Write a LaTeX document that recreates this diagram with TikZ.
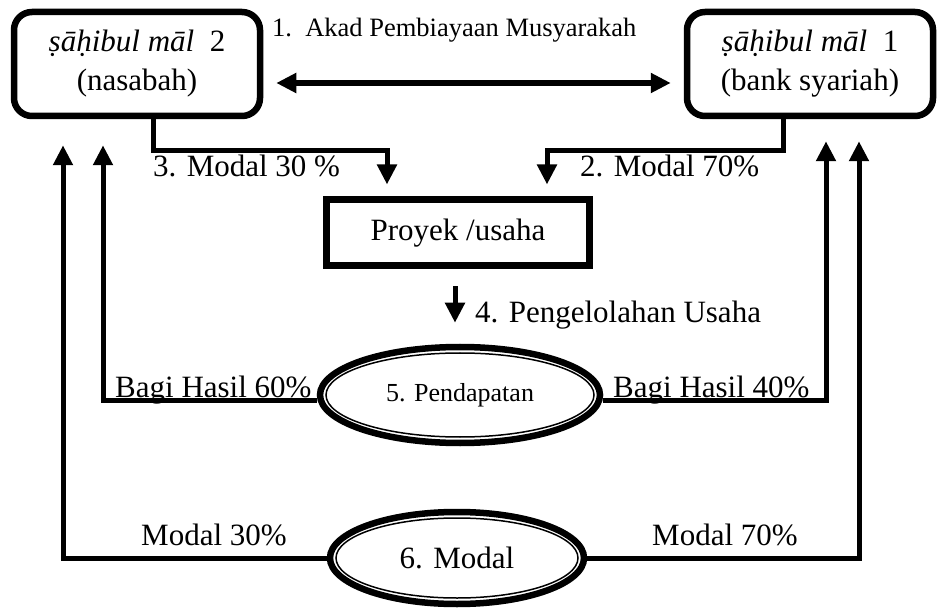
\documentclass[tikz,border=0pt]{standalone}
\usepackage{fontspec}
\setmainfont{Liberation Serif}
\usetikzlibrary{arrows.meta, positioning, shapes.geometric}

\begin{document}
\begin{tikzpicture}[
x=1pt, y=-1pt,
every node/.style={font=\fontsize{31}{39}\selectfont},
party/.style={draw, rectangle, rounded corners=18pt, line width=6.5pt, minimum width=246pt, minimum height=104pt, align=center, inner sep=0pt},
projbox/.style={draw, rectangle, line width=7pt, minimum width=263pt, minimum height=66pt},
oval/.style={draw, ellipse, line width=6.5pt, inner sep=0pt},
lbl/.style={anchor=base west, inner sep=0pt},
arrow/.style={-{Triangle[length=20pt, width=19pt]}, line width=5pt}
]

\useasboundingbox (0,0) rectangle (942,609);

\node[party] (nasabah) at (137,64) {\textit{ṣāḥibul māl}\ \ 2\\(nasabah)};
\node[party] (bank) at (810,64) {\textit{ṣāḥibul māl}\ \ 1\\(bank syariah)};

\node[projbox] (proyek) at (458,233) {Proyek /usaha};

\node[oval, minimum width=280pt, minimum height=96pt] (pendapatan) at (460,395)
{\fontsize{26}{30}\selectfont 5. Pendapatan};
\draw[line width=1.5pt] (pendapatan.center) ellipse [x radius=134pt, y radius=42pt];

\node[oval, minimum width=254pt, minimum height=92pt] (modal) at (457,558) {6. Modal};
\draw[line width=1.5pt] (modal.center) ellipse [x radius=121pt, y radius=40pt];

% labels
\node[lbl, font=\fontsize{26.5}{30}\selectfont] (akad) at (272,37) {1.\ \ Akad Pembiayaan Musyarakah};
\node[lbl] (modal3) at (153,177) {3. Modal 30 \%};
\node[lbl] (modal2) at (580,177) {2. Modal 70\%};
\node[lbl] (kelola) at (475,323) {4. Pengelolahan Usaha};
\node[lbl] (hasil60) at (115,397) {Bagi Hasil 60\%};
\node[lbl] (hasil40) at (613,397) {Bagi Hasil 40\%};
\node[lbl] (modal30) at (141,545) {Modal 30\%};
\node[lbl] (modal70) at (652,545) {Modal 70\%};

\draw[{Triangle[length=20pt, width=19pt]}-{Triangle[length=20pt, width=19pt]}, line width=5.5pt]
  ([xshift=13pt,yshift=-19pt]nasabah.east) -- ([xshift=-13pt,yshift=-19pt]bank.west);

\draw[arrow] ([xshift=16pt]nasabah.south) -- ++(0,31) -| ([xshift=-71pt,yshift=12pt]proyek.north);
\draw[arrow] ([xshift=-27pt]bank.south) -- ++(0,31) -| ([xshift=89pt,yshift=12pt]proyek.north);
\draw[arrow] ([xshift=-3pt,yshift=-17pt]proyek.south) -- ([xshift=-5pt,yshift=21pt]pendapatan.north);

\draw[arrow] ([yshift=-5pt]pendapatan.west) -| ([xshift=-34pt,yshift=-26pt]nasabah.south);
\draw[arrow] ([yshift=-5pt]pendapatan.east) -| ([xshift=16pt,yshift=-22pt]bank.south);
\draw[arrow] (modal.west) -| ([xshift=-74pt,yshift=-26pt]nasabah.south);
\draw[arrow] (modal.east) -| ([xshift=49pt,yshift=-22pt]bank.south);

\end{tikzpicture}
\end{document}
